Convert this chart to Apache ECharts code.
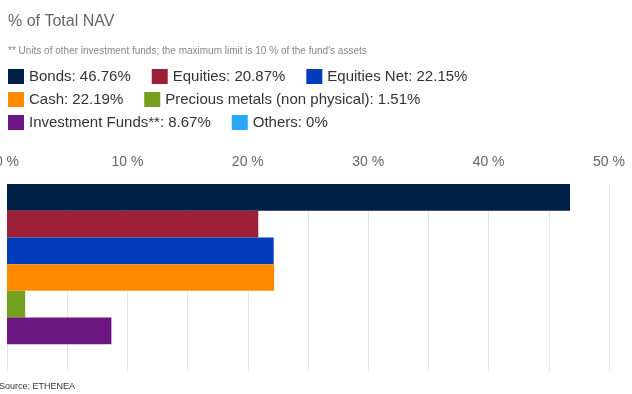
<!DOCTYPE html>
<html>
<head>
<meta charset="utf-8">
<script src="https://cdn.jsdelivr.net/npm/echarts@6/dist/echarts.min.js"></script>
<style>
  html, body { margin: 0; padding: 0; background: #fff; }
  #chart { width: 632px; height: 394px; }
</style>
</head>
<body>
<div id="chart"></div>
<script>
// asset classes and their share of total NAV
var names = ['Bonds', 'Equities', 'Equities Net', 'Cash', 'Precious metals (non physical)', 'Investment Funds**', 'Others'];
var labels = ['46.76%', '20.87%', '22.15%', '22.19%', '1.51%', '8.67%', '0%'];
var values = [46.76, 20.87, 22.15, 22.19, 1.51, 8.67, 0];
var colors = ['#001f45', '#9d2038', '#003cbc', '#ff8a00', '#74a01f', '#6b1680', '#2aa8f5'];
var ticks = [0, 10, 20, 30, 40, 50];

var chart = echarts.init(document.getElementById('chart'));

var font = 'Liberation Sans, Arial, sans-serif';

var series = names.map(function (n, i) {
  return {
    name: n,
    type: 'bar',
    data: [values[i]],
    barGap: '0%',
    barCategoryGap: '0%',
    itemStyle: { color: colors[i] },
    silent: true
  };
});

// legend in three rows like the original
function legendRow(items, top) {
  return {
    data: items,
    left: 8,
    top: top,
    padding: 0,
    orient: 'horizontal',
    icon: 'rect',
    itemWidth: 16,
    itemHeight: 15,
    itemGap: 21,
    selectedMode: false,
    textStyle: { fontFamily: font, fontSize: 15, color: '#333' },
    formatter: function (name) {
      return name + ': ' + labels[names.indexOf(name)];
    }
  };
}

var option = {
  animation: false,
  title: [
    {
      text: '% of Total NAV',
      left: 8, top: 14, padding: 0,
      textStyle: { fontFamily: font, fontSize: 16, fontWeight: 'normal', color: '#666' }
    },
    {
      text: "** Units of other investment funds; the maximum limit is 10 % of the fund's assets",
      left: 8, top: 46, padding: 0,
      textStyle: { fontFamily: font, fontSize: 10, fontWeight: 'normal', color: '#888' }
    }
  ],
  graphic: [{
    type: 'text',
    x: -1, y: 382,
    style: { text: 'Source: ETHENEA', font: '9px ' + font, fill: '#333' }
  }],
  legend: [
    legendRow(names.slice(0, 3), 69),
    legendRow(names.slice(3, 5), 92),
    legendRow(names.slice(5), 115)
  ],
  grid: { left: 7, right: 23, top: 184, bottom: 23, containLabel: false, outerBoundsMode: 'none' },
  xAxis: {
    type: 'value',
    position: 'top',
    min: 0, max: 50, interval: 5,
    axisLine: { show: false },
    axisTick: { show: false },
    splitLine: { show: true, lineStyle: { color: '#e6e6e6', width: 1 } },
    axisLabel: {
      margin: 15,
      fontFamily: font, fontSize: 14, color: '#666',
      formatter: function (v) { return ticks.indexOf(v) >= 0 ? v + ' %' : ''; }
    }
  },
  yAxis: {
    type: 'category',
    data: [''],
    inverse: true,
    axisLine: { show: false },
    axisTick: { show: false },
    axisLabel: { show: false }
  },
  series: series
};

chart.setOption(option);
</script>
</body>
</html>
